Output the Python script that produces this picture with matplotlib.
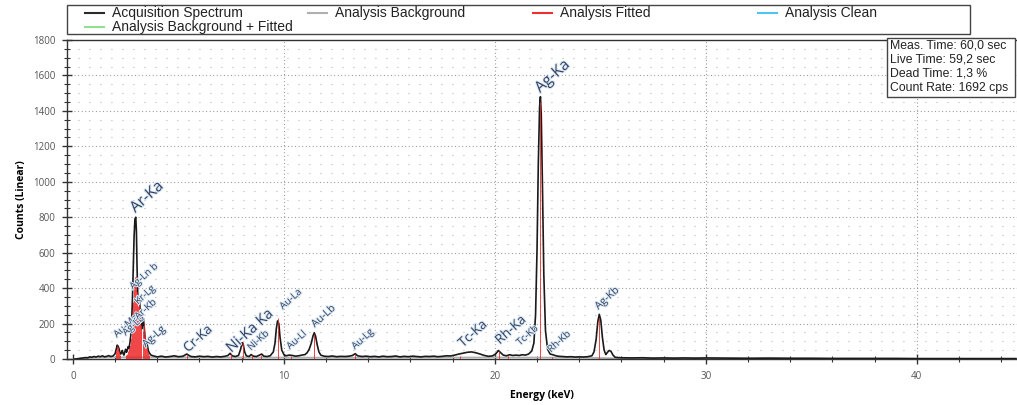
import matplotlib
matplotlib.use("Agg")
import matplotlib.pyplot as plt
import matplotlib.patheffects as pe
from matplotlib.patches import Rectangle
from matplotlib.lines import Line2D
from matplotlib.ticker import MultipleLocator

# acquisition spectrum (keV, counts)
spec_e = [0.1, 0.2, 0.3, 0.4, 0.5, 0.6, 0.7, 0.8, 0.9, 1.0, 1.1, 1.2, 1.3, 1.4, 1.5, 1.6, 1.7, 1.8, 1.9, 2.0,
          2.05, 2.1, 2.14, 2.18, 2.22, 2.26, 2.3, 2.34, 2.38, 2.42, 2.46, 2.5, 2.54, 2.58, 2.62, 2.66, 2.7, 2.74,
          2.78, 2.82, 2.86, 2.9, 2.94, 2.98, 3.01, 3.04, 3.07, 3.1, 3.13, 3.16, 3.19, 3.22, 3.26, 3.3, 3.34, 3.38,
          3.42, 3.46, 3.5, 3.54, 3.58, 3.62, 3.66, 3.7, 3.8, 3.9,
          4.0, 4.2, 4.4, 4.6, 4.8, 5.0, 5.2, 5.4, 5.5, 5.6, 5.8, 6.0, 6.2, 6.4, 6.6, 6.8, 7.0, 7.2, 7.35, 7.45,
          7.55, 7.7, 7.85, 7.95, 8.02, 8.07, 8.14, 8.22, 8.35, 8.45, 8.55, 8.7, 8.85, 8.95, 9.05, 9.2, 9.35, 9.5,
          9.58, 9.64, 9.7, 9.76, 9.82, 9.9, 10.0, 10.1, 10.25, 10.4, 10.55, 10.7, 10.85, 11.0, 11.1, 11.2, 11.3,
          11.38, 11.44, 11.5, 11.58, 11.66, 11.75, 11.9, 12.1, 12.3, 12.5, 12.7, 12.9, 13.1, 13.25, 13.38, 13.5,
          13.7, 13.9, 14.1, 14.3, 14.5, 14.7, 14.9, 15.1, 15.3, 15.5, 15.7, 15.9, 16.1, 16.3, 16.5, 16.7, 16.9,
          17.1, 17.3, 17.5, 17.7, 17.9, 18.1, 18.3, 18.5, 18.7, 18.9, 19.1, 19.3, 19.5, 19.7, 19.9, 20.05, 20.17,
          20.28, 20.4, 20.55, 20.7, 20.85, 21.0, 21.15, 21.3, 21.45, 21.6, 21.75, 21.85, 21.93, 22.0, 22.06,
          22.12, 22.16, 22.2, 22.26, 22.32, 22.4, 22.5, 22.62, 22.75, 22.9, 23.05, 23.2, 23.4, 23.6, 23.8, 24.0,
          24.2, 24.4, 24.6, 24.7, 24.8, 24.88, 24.95, 25.02, 25.1, 25.18, 25.26, 25.34, 25.42, 25.5, 25.6, 25.7,
          25.85, 26.0, 26.5, 27.0, 27.5, 28.0, 28.5, 29.0, 29.5, 30.0, 31.0, 32.0, 33.0, 34.0, 35.0, 36.0, 37.0,
          38.0, 39.0, 40.0, 41.0, 42.0, 43.0, 44.0, 44.7]
spec_c = [0, 1, 3, 5, 6, 8, 7, 12, 10, 14, 11, 16, 13, 18, 12, 15, 19, 14, 17, 30,
          55, 78, 72, 60, 40, 28, 35, 48, 30, 22, 40, 55, 38, 50, 70, 60, 90, 130,
          200, 330, 520, 690, 790, 800, 720, 520, 380, 310, 340, 330, 270, 210, 170, 190, 230, 180,
          120, 90, 95, 70, 45, 35, 28, 22, 18, 15,
          12, 16, 11, 14, 18, 13, 15, 28, 20, 14, 12, 16, 13, 15, 11, 14, 12, 15, 20, 32,
          18, 14, 20, 55, 92, 85, 40, 18, 14, 25, 16, 14, 22, 28, 16, 14, 18, 40,
          90, 170, 215, 200, 120, 50, 25, 18, 22, 20, 16, 18, 22, 25, 35, 55, 90,
          130, 148, 130, 80, 40, 22, 16, 14, 17, 13, 15, 14, 16, 20, 30, 18,
          14, 16, 13, 15, 12, 16, 13, 14, 17, 12, 15, 13, 16, 14, 12, 15, 14,
          16, 13, 15, 18, 17, 22, 28, 33, 38, 40, 35, 28, 20, 15, 18, 30, 48,
          35, 22, 18, 24, 20, 22, 20, 24, 22, 28, 45, 90, 250, 620, 1100,
          1420, 1480, 1380, 950, 480, 160, 55, 28, 24, 18, 15, 14, 12, 13, 11, 12,
          11, 13, 18, 40, 110, 210, 252, 220, 120, 50, 25, 38, 48, 44, 22, 10,
          8, 7, 6, 7, 5, 6, 5, 6, 5, 6, 5, 4, 5, 4, 4, 3, 3,
          3, 3, 2, 2, 2, 2, 2, 2]

# analysis background
bkg_e = [0.5, 1.0, 2.0, 4.0, 8.0, 12.0, 16.0, 20.0, 24.0, 26.0, 30.0, 44.7]
bkg_c = [3, 8, 10, 10, 9, 8, 8, 9, 8, 4, 3, 2]

# analysis fitted (drawn as channel lines)
fit_e = [2.06, 2.1, 2.14, 2.18, 2.22, 2.5, 2.55, 2.6, 2.65, 2.7, 2.75, 2.8, 2.85, 2.9, 2.95, 3.0,
         3.05, 3.1, 3.15, 3.2, 3.25, 3.3, 3.35, 3.4, 3.45, 3.5, 3.55, 3.6,
         5.41, 7.47, 8.04, 8.49, 8.9, 9.71, 10.35, 11.44, 13.38, 18.37, 20.21, 20.62, 22.16, 22.72, 24.94]
fit_c = [50, 75, 70, 45, 25, 20, 30, 45, 60, 80, 120, 200, 320, 420, 465, 470,
         380, 300, 330, 260, 190, 160, 200, 130, 80, 60, 40, 25,
         22, 28, 95, 20, 22, 232, 15, 140, 28, 15, 45, 18, 1450, 12, 230]

# peak labels: text, energy, counts, font size
lab_text = ["Ar-Ka", "Ag-Ka", "Ag-Kb", "Ag-Lg", "Cr-Ka", "Ni-Ka Ka", "Ni-Kb", "Au-La", "Au-Ll", "Au-Lb",
            "Au-Lg", "Tc-Ka", "Rh-Ka", "Tc-Kb", "Rh-Kb", "Au-Ma", "Ag-Lb", "Ag-Ln b", "Kr-Lg", "Ar-Kb"]
lab_e = [3.08, 22.27, 25.0, 3.55, 5.55, 7.63, 8.53, 10.05, 10.38, 11.56,
         13.46, 18.58, 20.33, 21.28, 22.75, 2.18, 2.6, 2.94, 3.18, 3.18]
lab_c = [807, 1484, 265, 51, 23, 17, 34, 265, 40, 164,
         40, 51, 68, 62, 23, 107, 118, 378, 293, 209]
lab_size = [11, 11, 7.5, 7.5, 9.5, 10.5, 7, 7, 7, 7.5,
            7, 9.5, 9.5, 7, 7, 7, 7, 7, 7, 7]

legend_names = ["Acquisition Spectrum", "Analysis Background", "Analysis Fitted", "Analysis Clean",
                "Analysis Background + Fitted"]
legend_colors = ["#2b2b2b", "#b0b0b0", "#f03030", "#4cc3f0", "#90e090"]

info_lines = ["Meas. Time: 60,0 sec", "Live Time: 59,2 sec", "Dead Time: 1,3 %", "Count Rate: 1692 cps"]

W, H = 1017, 405
fig = plt.figure(figsize=(W / 100, H / 100), dpi=100)
ax = fig.add_axes([67 / W, 1 - 359 / H, 950 / W, 319 / H])

ax.set_xlim(-0.28, 44.75)
ax.set_ylim(0, 1800)

# dotted grid
for y in range(50, 1800, 50):
    if y % 200 == 0:
        ax.axhline(y, color="#8a8a8a", lw=0.8, ls=(0, (0.8, 2.4)), zorder=0)
    else:
        ax.axhline(y, color="#a8a8a8", lw=0.8, ls=(0, (0.8, 9.1)), zorder=0)
for x in [10, 20, 30, 40]:
    ax.axvline(x, color="#8a8a8a", lw=0.8, ls=(0, (0.8, 2.4)), zorder=0)

ax.plot(bkg_e, bkg_c, color="#b0b0b0", lw=1.2, zorder=2)
ax.plot(spec_e, spec_c, color="#1a1a1a", lw=1.2, zorder=3)
ax.vlines(fit_e, 0, fit_c, color="#ee2525", lw=0.6, zorder=4)

for t, e, c, s in zip(lab_text, lab_e, lab_c, lab_size):
    ax.text(e, c, t, rotation=42, rotation_mode="anchor", ha="left", va="bottom",
            fontsize=s, color="#34425e", family="Open Sans", zorder=5,
            path_effects=[pe.withStroke(linewidth=1.5, foreground="#dbe9f7")])

# axes style
ax.spines["right"].set_visible(False)
for side in ["left", "bottom", "top"]:
    ax.spines[side].set_color("#333333")
    ax.spines[side].set_linewidth(1.0)

ax.xaxis.set_major_locator(MultipleLocator(10))
ax.xaxis.set_minor_locator(MultipleLocator(2))
ax.yaxis.set_major_locator(MultipleLocator(200))
ax.yaxis.set_minor_locator(MultipleLocator(50))
ax.tick_params(which="major", direction="inout", length=7, width=1, color="#333333",
               labelsize=7, labelcolor="#555555", pad=5)
ax.tick_params(which="minor", direction="inout", length=4, width=0.8, color="#333333")
for lbl in ax.get_xticklabels() + ax.get_yticklabels():
    lbl.set_family("Open Sans")

ax.set_xlabel("Energy (keV)", fontsize=7.5, fontweight="bold", family="Open Sans", labelpad=6)
ax.set_ylabel("Counts (Linear)", fontsize=7.5, fontweight="bold", family="Open Sans", labelpad=4)

# legend box on top
fig.patches.append(Rectangle((67 / W, 1 - 34 / H), 903 / W, 29 / H, transform=fig.transFigure,
                             fill=False, edgecolor="#444444", lw=1.0))
leg_x = [112, 335, 560, 785, 112]
leg_y = [13, 13, 13, 13, 27]
for name, col, tx, ty in zip(legend_names, legend_colors, leg_x, leg_y):
    fig.add_artist(Line2D([(tx - 27) / W, (tx - 8) / W], [1 - ty / H, 1 - ty / H],
                          transform=fig.transFigure, color=col, lw=1.5))
    fig.text(tx / W, 1 - ty / H, name, ha="left", va="center", fontsize=10,
             family="Liberation Sans", color="#222222")

# info box
fig.patches.append(Rectangle((887 / W, 1 - 97 / H), 128 / W, 59 / H, transform=fig.transFigure,
                             facecolor="white", edgecolor="#444444", lw=1.0, zorder=10))
for i, line in enumerate(info_lines):
    fig.text(890 / W, 1 - (46 + i * 14) / H, line, ha="left", va="center", fontsize=8.8,
             family="Liberation Sans", color="#222222", zorder=11)

fig.savefig("out.png", dpi=100)
